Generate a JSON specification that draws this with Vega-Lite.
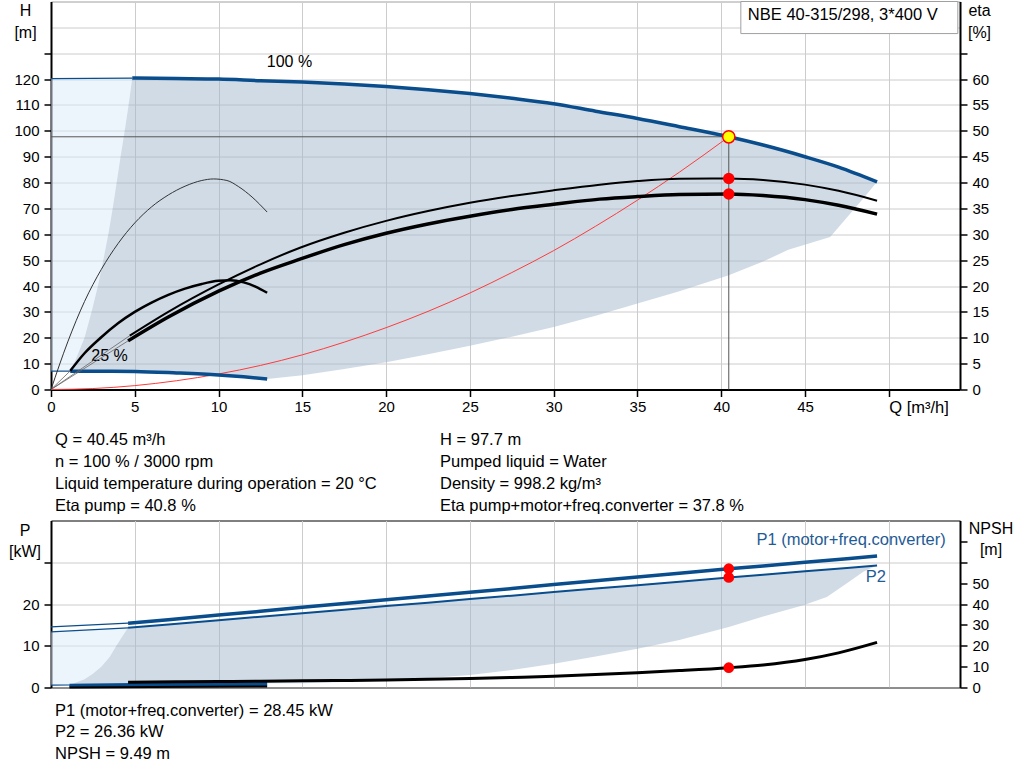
{
  "$schema": "https://vega.github.io/schema/vega-lite/v6.json",
  "padding": {"left": 8, "top": 0.5, "right": 5, "bottom": 5},
  "bounds": "flush",
  "spacing": 0,
  "config": {
    "font": "Liberation Sans",
    "axis": {"labelColor": "#000", "titleColor": "#000", "labelFontSize": 15, "titleFontSize": 16, "titleFontWeight": "normal", "tickColor": "#000", "domainColor": "#000"},
    "text": {"fontSize": 16.5, "color": "#000"}
  },
  "vconcat": [
    {
      "width": 909,
      "height": 388,
      "view": {"stroke": "#a0a0a0", "strokeWidth": 1},
      "encoding": {
        "x": {
          "field": "Q", "type": "quantitative",
          "scale": {"domain": [0, 54.25], "nice": false, "zero": false},
          "axis": {
            "values": [0, 5, 10, 15, 20, 25, 30, 35, 40, 45, 50],
            "title": null,
            "labelExpr": "datum.value == 50 ? 'Q [m³/h]' : datum.label",
            "labelAlign": {"condition": {"test": "datum.value == 50", "value": "left"}, "value": "center"},
            "labelFontSize": {"condition": {"test": "datum.value == 50", "value": 16.5}, "value": 15},
            "labelFlush": false, "labelOverlap": false, "labelPadding": 3,
            "grid": true, "gridColor": "#cccccc", "gridWidth": 1,
            "domainWidth": 2, "tickSize": 7, "tickWidth": 1.5
          }
        }
      },
      "layer": [
        {
          "encoding": {
            "y": {
              "field": "H", "type": "quantitative",
              "scale": {"domain": [0, 150], "nice": false, "zero": false},
              "axis": {
                "values": [0, 10, 20, 30, 40, 50, 60, 70, 80, 90, 100, 110, 120, 130, 140],
                "labelExpr": "datum.value > 120 ? '' : datum.label",
                "tickOpacity": {"condition": {"test": "datum.value > 130", "value": 0}, "value": 1},
                "grid": true, "gridColor": "#cccccc", "gridWidth": 1,
                "domainWidth": 2, "tickSize": 7, "tickWidth": 1.5, "labelPadding": 5,
                "title": ["H", "[m]"], "titleAngle": 0, "titleAlign": "center", "titleBaseline": "top",
                "titleX": -26, "titleY": 1, "titleLineHeight": 21.5
              }
            }
          },
          "layer": [
            {
              "data": {"values": [
                {"Q": 0, "H": 120.2, "H2": 7.1}, {"Q": 1.15, "H": 120.2, "H2": 7.1}, {"Q": 1.5, "H": 120.2, "H2": 12},
                {"Q": 2.0, "H": 120.2, "H2": 20}, {"Q": 2.42, "H": 120.2, "H2": 30}, {"Q": 2.8, "H": 120.3, "H2": 40},
                {"Q": 3.12, "H": 120.3, "H2": 50}, {"Q": 3.42, "H": 120.3, "H2": 60}, {"Q": 3.68, "H": 120.3, "H2": 70},
                {"Q": 3.92, "H": 120.3, "H2": 80}, {"Q": 4.15, "H": 120.3, "H2": 90}, {"Q": 4.4, "H": 120.4, "H2": 100},
                {"Q": 4.63, "H": 120.4, "H2": 110}, {"Q": 4.85, "H": 120.4, "H2": 120.4}
              ]},
              "mark": {"type": "area", "color": "#dcebfa", "opacity": 0.5},
              "encoding": {"y2": {"field": "H2"}}
            },
            {
              "data": {"values": [
                {"Q": 1.15, "H": 7.1, "H2": 7.1}, {"Q": 1.5, "H": 12, "H2": 7.1}, {"Q": 2.0, "H": 20, "H2": 7.1},
                {"Q": 2.42, "H": 30, "H2": 7.1}, {"Q": 2.8, "H": 40, "H2": 7.1}, {"Q": 3.12, "H": 50, "H2": 7.1},
                {"Q": 3.42, "H": 60, "H2": 7.1}, {"Q": 3.68, "H": 70, "H2": 7.1}, {"Q": 3.92, "H": 80, "H2": 7.05},
                {"Q": 4.15, "H": 90, "H2": 7.05}, {"Q": 4.4, "H": 100, "H2": 7.05}, {"Q": 4.63, "H": 110, "H2": 7.0},
                {"Q": 4.85, "H": 120.4, "H2": 7.0}, {"Q": 7.5, "H": 120.2, "H2": 6.4},
                {"Q": 10, "H": 120.0, "H2": 5.6}, {"Q": 12.9, "H": 119.3, "H2": 4.1}, {"Q": 15, "H": 118.9, "H2": 5.5},
                {"Q": 17.5, "H": 118.1, "H2": 7.9}, {"Q": 20, "H": 117.1, "H2": 10.5}, {"Q": 22.5, "H": 115.9, "H2": 13.6},
                {"Q": 25, "H": 114.4, "H2": 16.9}, {"Q": 27.5, "H": 112.6, "H2": 20.4}, {"Q": 30, "H": 110.5, "H2": 24.2},
                {"Q": 32.5, "H": 107.6, "H2": 28.5}, {"Q": 35, "H": 104.8, "H2": 33.2}, {"Q": 37.5, "H": 101.6, "H2": 38.0},
                {"Q": 40.45, "H": 97.7, "H2": 44.2}, {"Q": 42.5, "H": 94.5, "H2": 49.5}, {"Q": 44, "H": 91.9, "H2": 54.0},
                {"Q": 46.5, "H": 87.0, "H2": 59.0}, {"Q": 47.5, "H": 85.0, "H2": 66.5}, {"Q": 48.5, "H": 82.3, "H2": 74.0},
                {"Q": 49.3, "H": 80.3, "H2": 80.3}
              ]},
              "mark": {"type": "area", "color": "#a1b7cd", "opacity": 0.5},
              "encoding": {"y2": {"field": "H2"}}
            },
            {
              "data": {"values": [
                {"Q": 0, "Q2": 40.45, "H": 97.7, "H2": 97.7},
                {"Q": 40.45, "Q2": 40.45, "H": 0, "H2": 97.7}
              ]},
              "mark": {"type": "rule", "color": "#555555", "strokeWidth": 1},
              "encoding": {"x2": {"field": "Q2"}, "y2": {"field": "H2"}}
            },
            {
              "data": {"values": [
                {"Q": 0, "H": 0}, {"Q": 2.5, "H": 0.37}, {"Q": 5, "H": 1.5}, {"Q": 7.5, "H": 3.4}, {"Q": 10, "H": 6.0},
                {"Q": 12.5, "H": 9.3}, {"Q": 15, "H": 13.4}, {"Q": 17.5, "H": 18.3}, {"Q": 20, "H": 23.9},
                {"Q": 22.5, "H": 30.2}, {"Q": 25, "H": 37.3}, {"Q": 27.5, "H": 45.2}, {"Q": 30, "H": 53.7},
                {"Q": 32.5, "H": 63.1}, {"Q": 35, "H": 73.2}, {"Q": 37.5, "H": 84.0}, {"Q": 40.45, "H": 97.7}
              ]},
              "mark": {"type": "line", "color": "#ff3b3b", "strokeWidth": 1, "interpolate": "monotone"},
              "encoding": {}
            },
            {
              "data": {"values": [
                {"s": "100", "Q": 0, "H": 120.2}, {"s": "100", "Q": 4.85, "H": 120.4},
                {"s": "25", "Q": 0, "H": 7.1}, {"s": "25", "Q": 1.15, "H": 7.1}
              ]},
              "mark": {"type": "line", "color": "#0a4d8c", "strokeWidth": 1.2},
              "encoding": {"detail": {"field": "s"}}
            },
            {
              "data": {"values": [
                {"s": "100", "Q": 4.85, "H": 120.4}, {"s": "100", "Q": 7.5, "H": 120.2}, {"s": "100", "Q": 10, "H": 120.0},
                {"s": "100", "Q": 12.5, "H": 119.4}, {"s": "100", "Q": 15, "H": 118.9}, {"s": "100", "Q": 17.5, "H": 118.1},
                {"s": "100", "Q": 20, "H": 117.1}, {"s": "100", "Q": 22.5, "H": 115.9}, {"s": "100", "Q": 25, "H": 114.4},
                {"s": "100", "Q": 27.5, "H": 112.6}, {"s": "100", "Q": 30, "H": 110.5}, {"s": "100", "Q": 32.5, "H": 107.6},
                {"s": "100", "Q": 35, "H": 104.8}, {"s": "100", "Q": 37.5, "H": 101.6}, {"s": "100", "Q": 40.45, "H": 97.7},
                {"s": "100", "Q": 42.5, "H": 94.5}, {"s": "100", "Q": 45, "H": 90.0}, {"s": "100", "Q": 47, "H": 86.0},
                {"s": "100", "Q": 49.3, "H": 80.3},
                {"s": "25", "Q": 1.15, "H": 7.1}, {"s": "25", "Q": 3, "H": 7.1}, {"s": "25", "Q": 5, "H": 7.0},
                {"s": "25", "Q": 7.5, "H": 6.4}, {"s": "25", "Q": 10, "H": 5.6}, {"s": "25", "Q": 11.5, "H": 4.9},
                {"s": "25", "Q": 12.9, "H": 4.1}
              ]},
              "mark": {"type": "line", "color": "#0a4d8c", "strokeWidth": 3.5, "interpolate": "monotone"},
              "encoding": {"detail": {"field": "s"}}
            },
            {
              "data": {"values": [
                {"Q": 14.23, "H": 126.8, "label": "100 %"},
                {"Q": 3.49, "H": 13.1, "label": "25 %"}
              ]},
              "mark": {"type": "text", "align": "center", "baseline": "middle", "fontSize": 16},
              "encoding": {"text": {"field": "label"}}
            },
            {
              "data": {"values": [{"Q": 40.45, "H": 97.7}]},
              "mark": {"type": "point", "filled": true, "shape": "circle", "size": 150, "fill": "#ffff00", "stroke": "#ff0000", "strokeWidth": 1.5, "opacity": 1},
              "encoding": {}
            },
            {
              "data": {"values": [{"Q": 41.17, "Q2": 54.12, "H": 137.6, "H2": 150}]},
              "mark": {"type": "rect", "fill": "#ffffff", "stroke": "#a0a0a0", "strokeWidth": 1},
              "encoding": {"x2": {"field": "Q2"}, "y2": {"field": "H2"}}
            },
            {
              "data": {"values": [{"Q": 41.59, "H": 144.6, "label": "NBE 40-315/298, 3*400 V"}]},
              "mark": {"type": "text", "align": "left", "baseline": "middle", "fontSize": 16.5},
              "encoding": {"text": {"field": "label"}}
            }
          ]
        },
        {
          "encoding": {
            "y": {
              "field": "eta", "type": "quantitative",
              "scale": {"domain": [0, 75], "nice": false, "zero": false},
              "axis": {
                "orient": "right",
                "values": [0, 5, 10, 15, 20, 25, 30, 35, 40, 45, 50, 55, 60, 65, 70],
                "labelExpr": "datum.value > 60 ? '' : datum.label",
                "tickOpacity": {"condition": {"test": "datum.value > 65", "value": 0}, "value": 1},
                "grid": false, "domainWidth": 2, "tickSize": 7, "tickWidth": 1.5, "labelPadding": 5,
                "title": ["eta", "[%]"], "titleAngle": 0, "titleAlign": "center", "titleBaseline": "top",
                "titleX": 19, "titleY": 1, "titleLineHeight": 21.5
              }
            }
          },
          "layer": [
            {
              "data": {"values": [
                {"s": "o1", "Q": 0, "eta": 0}, {"s": "o1", "Q": 4.7, "eta": 10.4},
                {"s": "o2", "Q": 0, "eta": 0}, {"s": "o2", "Q": 4.6, "eta": 9.4},
                {"s": "o3", "Q": 0, "eta": 0}, {"s": "o3", "Q": 1.15, "eta": 3.6}
              ]},
              "mark": {"type": "line", "color": "#666666", "strokeWidth": 0.8},
              "encoding": {"detail": {"field": "s"}}
            },
            {
              "data": {"values": [
                {"Q": 0, "eta": 0}, {"Q": 1, "eta": 9.2}, {"Q": 2, "eta": 17.0}, {"Q": 3, "eta": 23.2},
                {"Q": 4, "eta": 28.2}, {"Q": 5, "eta": 32.2}, {"Q": 6, "eta": 35.3}, {"Q": 7, "eta": 37.6},
                {"Q": 8, "eta": 39.3}, {"Q": 9, "eta": 40.4}, {"Q": 9.7, "eta": 40.7}, {"Q": 10.5, "eta": 40.4},
                {"Q": 11.2, "eta": 39.2}, {"Q": 12, "eta": 37.2}, {"Q": 12.9, "eta": 34.3}
              ]},
              "mark": {"type": "line", "color": "#333333", "strokeWidth": 1, "interpolate": "monotone"},
              "encoding": {}
            },
            {
              "data": {"values": [
                {"Q": 1.15, "eta": 3.6}, {"Q": 2, "eta": 7.0}, {"Q": 3, "eta": 10.1}, {"Q": 4, "eta": 12.8},
                {"Q": 5, "eta": 15.0}, {"Q": 6, "eta": 16.8}, {"Q": 7, "eta": 18.3}, {"Q": 8, "eta": 19.5},
                {"Q": 9, "eta": 20.4}, {"Q": 10, "eta": 21.0}, {"Q": 10.7, "eta": 21.1}, {"Q": 11.5, "eta": 20.7},
                {"Q": 12.2, "eta": 19.9}, {"Q": 12.9, "eta": 18.7}
              ]},
              "mark": {"type": "line", "color": "#000000", "strokeWidth": 2.5, "interpolate": "monotone"},
              "encoding": {}
            },
            {
              "data": {"values": [
                {"Q": 4.7, "eta": 10.4}, {"Q": 7, "eta": 15.0}, {"Q": 10, "eta": 20.3}, {"Q": 12.5, "eta": 24.2},
                {"Q": 14.86, "eta": 27.4}, {"Q": 17.5, "eta": 30.3}, {"Q": 20, "eta": 32.6}, {"Q": 22.5, "eta": 34.5},
                {"Q": 25, "eta": 36.1}, {"Q": 27.5, "eta": 37.4}, {"Q": 30, "eta": 38.5}, {"Q": 32.75, "eta": 39.6},
                {"Q": 35, "eta": 40.3}, {"Q": 37.5, "eta": 40.75}, {"Q": 40.45, "eta": 40.8}, {"Q": 42.5, "eta": 40.5},
                {"Q": 45, "eta": 39.6}, {"Q": 47, "eta": 38.4}, {"Q": 49.3, "eta": 36.5}
              ]},
              "mark": {"type": "line", "color": "#000000", "strokeWidth": 2, "interpolate": "monotone"},
              "encoding": {}
            },
            {
              "data": {"values": [
                {"Q": 4.6, "eta": 9.4}, {"Q": 7, "eta": 14.0}, {"Q": 10, "eta": 19.0}, {"Q": 12.5, "eta": 22.5},
                {"Q": 14.86, "eta": 25.2}, {"Q": 17.5, "eta": 28.0}, {"Q": 20, "eta": 30.2}, {"Q": 22.5, "eta": 32.0},
                {"Q": 25, "eta": 33.5}, {"Q": 27.5, "eta": 34.8}, {"Q": 30, "eta": 35.8}, {"Q": 32.75, "eta": 36.8},
                {"Q": 35, "eta": 37.3}, {"Q": 37.5, "eta": 37.7}, {"Q": 40.45, "eta": 37.8}, {"Q": 42.5, "eta": 37.5},
                {"Q": 45, "eta": 36.7}, {"Q": 47, "eta": 35.6}, {"Q": 49.3, "eta": 33.9}
              ]},
              "mark": {"type": "line", "color": "#000000", "strokeWidth": 3.5, "interpolate": "monotone"},
              "encoding": {}
            },
            {
              "data": {"values": [{"Q": 40.45, "eta": 40.8}, {"Q": 40.45, "eta": 37.8}]},
              "mark": {"type": "point", "filled": true, "shape": "circle", "size": 130, "color": "#ff0000", "opacity": 1},
              "encoding": {}
            }
          ]
        }
      ],
      "resolve": {"scale": {"y": "independent"}}
    },
    {
      "width": 909,
      "height": 131,
      "view": {"stroke": null},
      "data": {"values": [
        {"col": 0, "line": 1, "text": "Q = 40.45 m³/h"},
        {"col": 0, "line": 2, "text": "n = 100 % / 3000 rpm"},
        {"col": 0, "line": 3, "text": "Liquid temperature during operation = 20 °C"},
        {"col": 0, "line": 4, "text": "Eta pump = 40.8 %"},
        {"col": 1, "line": 1, "text": "H = 97.7 m"},
        {"col": 1, "line": 2, "text": "Pumped liquid = Water"},
        {"col": 1, "line": 3, "text": "Density = 998.2 kg/m³"},
        {"col": 1, "line": 4, "text": "Eta pump+motor+freq.converter = 37.8 %"}
      ]},
      "mark": {"type": "text", "align": "left", "baseline": "middle", "fontSize": 16.5},
      "encoding": {
        "x": {"field": "col", "type": "quantitative", "scale": {"domain": [0, 1], "range": [4, 389]}, "axis": null},
        "y": {"field": "line", "type": "quantitative", "scale": {"domain": [1, 4], "range": [50, 116]}, "axis": null},
        "text": {"field": "text"}
      }
    },
    {
      "width": 909,
      "height": 167,
      "view": {"stroke": "#000000", "strokeWidth": 1},
      "encoding": {
        "x": {
          "field": "Q", "type": "quantitative",
          "scale": {"domain": [0, 54.25], "nice": false, "zero": false},
          "axis": {
            "values": [0, 5, 10, 15, 20, 25, 30, 35, 40, 45, 50],
            "title": null, "labels": false, "ticks": false,
            "grid": true, "gridColor": "#cccccc", "gridWidth": 1,
            "domainColor": "#777777", "domainWidth": 1
          }
        }
      },
      "layer": [
        {
          "encoding": {
            "y": {
              "field": "P", "type": "quantitative",
              "scale": {"domain": [0, 40], "nice": false, "zero": false},
              "axis": {
                "values": [0, 10, 20, 30],
                "labelExpr": "datum.value > 20 ? '' : datum.label",
                "grid": true, "gridColor": "#cccccc", "gridWidth": 1,
                "domainWidth": 2, "tickSize": 7, "tickWidth": 1.5, "labelPadding": 5,
                "title": ["P", "[kW]"], "titleAngle": 0, "titleAlign": "center", "titleBaseline": "top",
                "titleX": -26.5, "titleY": 1.5, "titleLineHeight": 21
              }
            }
          },
          "layer": [
            {
              "data": {"values": [
                {"Q": 0, "P": 13.3, "P_low": 0.6}, {"Q": 1.1, "P": 13.5, "P_low": 0.6}, {"Q": 1.5, "P": 13.6, "P_low": 1.2},
                {"Q": 2.0, "P": 13.7, "P_low": 2.0}, {"Q": 2.5, "P": 13.8, "P_low": 3.3}, {"Q": 3.0, "P": 13.9, "P_low": 5.0},
                {"Q": 3.5, "P": 14.0, "P_low": 7.3}, {"Q": 3.9, "P": 14.1, "P_low": 10.0}, {"Q": 4.3, "P": 14.2, "P_low": 12.5},
                {"Q": 4.6, "P": 14.3, "P_low": 14.3}
              ]},
              "mark": {"type": "area", "color": "#dcebfa", "opacity": 0.5},
              "encoding": {"y2": {"field": "P_low"}}
            },
            {
              "data": {"values": [
                {"Q": 1.1, "P": 0.6, "P_low": 0.6}, {"Q": 1.5, "P": 1.2, "P_low": 0.6}, {"Q": 2.0, "P": 2.0, "P_low": 0.6},
                {"Q": 2.5, "P": 3.3, "P_low": 0.6}, {"Q": 3.0, "P": 5.0, "P_low": 0.65}, {"Q": 3.5, "P": 7.3, "P_low": 0.65},
                {"Q": 3.9, "P": 10.0, "P_low": 0.7}, {"Q": 4.3, "P": 12.5, "P_low": 0.7}, {"Q": 4.6, "P": 14.3, "P_low": 0.7},
                {"Q": 7, "P": 15.1, "P_low": 0.8}, {"Q": 10, "P": 16.1, "P_low": 0.9}, {"Q": 12.5, "P": 16.95, "P_low": 1.0},
                {"Q": 15, "P": 17.8, "P_low": 1.0}, {"Q": 17.5, "P": 18.6, "P_low": 1.3}, {"Q": 20, "P": 19.5, "P_low": 1.7},
                {"Q": 22.5, "P": 20.3, "P_low": 2.3}, {"Q": 25, "P": 21.2, "P_low": 3.0}, {"Q": 27.5, "P": 22.0, "P_low": 4.2},
                {"Q": 30, "P": 22.85, "P_low": 5.7}, {"Q": 32.5, "P": 23.7, "P_low": 7.4}, {"Q": 35, "P": 24.5, "P_low": 9.3},
                {"Q": 37.5, "P": 25.35, "P_low": 11.4}, {"Q": 40.45, "P": 26.36, "P_low": 14.5}, {"Q": 42.5, "P": 27.0, "P_low": 17.0},
                {"Q": 44.9, "P": 27.8, "P_low": 19.7}, {"Q": 46.3, "P": 28.3, "P_low": 21.7}, {"Q": 47.5, "P": 28.6, "P_low": 25.0},
                {"Q": 48.5, "P": 28.95, "P_low": 27.8}, {"Q": 49.3, "P": 29.2, "P_low": 29.2}
              ]},
              "mark": {"type": "area", "color": "#a1b7cd", "opacity": 0.5},
              "encoding": {"y2": {"field": "P_low"}}
            },
            {
              "data": {"values": [
                {"s": "P1", "Q": 0, "P": 14.5}, {"s": "P1", "Q": 4.6, "P": 15.4},
                {"s": "P2", "Q": 0, "P": 13.3}, {"s": "P2", "Q": 4.6, "P": 14.3},
                {"s": "P1_25", "Q": 0, "P": 0.55}, {"s": "P1_25", "Q": 1.1, "P": 0.6}
              ]},
              "mark": {"type": "line", "color": "#0a4d8c", "strokeWidth": 1.2},
              "encoding": {"detail": {"field": "s"}}
            },
            {
              "data": {"values": [
                {"Q": 4.6, "P": 14.3}, {"Q": 7, "P": 15.1}, {"Q": 10, "P": 16.1}, {"Q": 12.5, "P": 16.95},
                {"Q": 15, "P": 17.8}, {"Q": 17.5, "P": 18.6}, {"Q": 20, "P": 19.5}, {"Q": 22.5, "P": 20.3},
                {"Q": 25, "P": 21.2}, {"Q": 27.5, "P": 22.0}, {"Q": 30, "P": 22.85}, {"Q": 32.5, "P": 23.7},
                {"Q": 35, "P": 24.5}, {"Q": 37.5, "P": 25.35}, {"Q": 40.45, "P": 26.36}, {"Q": 42.5, "P": 27.0},
                {"Q": 45, "P": 27.85}, {"Q": 47.5, "P": 28.6}, {"Q": 49.3, "P": 29.2}
              ]},
              "mark": {"type": "line", "color": "#0a4d8c", "strokeWidth": 2},
              "encoding": {}
            },
            {
              "data": {"values": [
                {"Q": 4.6, "P": 15.4}, {"Q": 7, "P": 16.25}, {"Q": 10, "P": 17.35}, {"Q": 12.5, "P": 18.25},
                {"Q": 15, "P": 19.2}, {"Q": 17.5, "P": 20.1}, {"Q": 20, "P": 21.0}, {"Q": 22.5, "P": 21.9},
                {"Q": 25, "P": 22.8}, {"Q": 27.5, "P": 23.7}, {"Q": 30, "P": 24.65}, {"Q": 32.5, "P": 25.55},
                {"Q": 35, "P": 26.45}, {"Q": 37.5, "P": 27.35}, {"Q": 40.45, "P": 28.45}, {"Q": 42.5, "P": 29.1},
                {"Q": 45, "P": 30.0}, {"Q": 47.5, "P": 30.85}, {"Q": 49.3, "P": 31.5}
              ]},
              "mark": {"type": "line", "color": "#0a4d8c", "strokeWidth": 3.5},
              "encoding": {}
            },
            {
              "data": {"values": [
                {"s": "P1_25", "Q": 1.1, "P": 0.6}, {"s": "P1_25", "Q": 5, "P": 0.75}, {"s": "P1_25", "Q": 9, "P": 0.9}, {"s": "P1_25", "Q": 12.9, "P": 1.0},
                {"s": "P2_25", "Q": 1.1, "P": 0.35}, {"s": "P2_25", "Q": 12.9, "P": 0.6}
              ]},
              "mark": {"type": "line", "color": "#0a4d8c", "strokeWidth": 2.5},
              "encoding": {"detail": {"field": "s"}}
            },
            {
              "data": {"values": [
                {"Q": 53.4, "P": 35.3, "label": "P1 (motor+freq.converter)"}
              ]},
              "mark": {"type": "text", "align": "right", "baseline": "middle", "fontSize": 16.5, "color": "#1f5b95"},
              "encoding": {"text": {"field": "label"}}
            },
            {
              "data": {"values": [
                {"Q": 48.63, "P": 26.5, "label": "P2"}
              ]},
              "mark": {"type": "text", "align": "left", "baseline": "middle", "fontSize": 16.5, "color": "#1f5b95"},
              "encoding": {"text": {"field": "label"}}
            },
            {
              "data": {"values": [{"Q": 40.45, "P": 28.45}, {"Q": 40.45, "P": 26.36}]},
              "mark": {"type": "point", "filled": true, "shape": "circle", "size": 115, "color": "#ff0000", "opacity": 1},
              "encoding": {}
            }
          ]
        },
        {
          "encoding": {
            "y": {
              "field": "NPSH", "type": "quantitative",
              "scale": {"domain": [0, 80], "nice": false, "zero": false},
              "axis": {
                "orient": "right",
                "values": [0, 10, 20, 30, 40, 50, 60, 70],
                "labelExpr": "datum.value > 50 ? '' : datum.label",
                "grid": false, "domainWidth": 2, "tickSize": 7, "tickWidth": 1.5, "labelPadding": 5,
                "title": ["NPSH", "[m]"], "titleAngle": 0, "titleAlign": "center", "titleBaseline": "top",
                "titleX": 30.5, "titleY": 0, "titleLineHeight": 21
              }
            }
          },
          "layer": [
            {
              "data": {"values": [
                {"Q": 1.1, "NPSH": 0.0}, {"Q": 6, "NPSH": 0.2}, {"Q": 12.9, "NPSH": 0.5}
              ]},
              "mark": {"type": "line", "color": "#000000", "strokeWidth": 2},
              "encoding": {}
            },
            {
              "data": {"values": [
                {"Q": 4.6, "NPSH": 2.5}, {"Q": 7.5, "NPSH": 2.7}, {"Q": 10, "NPSH": 2.85},
                {"Q": 12.5, "NPSH": 3.0}, {"Q": 15, "NPSH": 3.2}, {"Q": 17.5, "NPSH": 3.35},
                {"Q": 20, "NPSH": 3.55}, {"Q": 22.5, "NPSH": 3.9}, {"Q": 25, "NPSH": 4.3},
                {"Q": 27.5, "NPSH": 4.8}, {"Q": 30, "NPSH": 5.4}, {"Q": 32.5, "NPSH": 6.2},
                {"Q": 35, "NPSH": 7.1}, {"Q": 37.5, "NPSH": 8.1}, {"Q": 40.45, "NPSH": 9.49},
                {"Q": 42.5, "NPSH": 10.8}, {"Q": 45, "NPSH": 13.4}, {"Q": 47, "NPSH": 16.6},
                {"Q": 49.3, "NPSH": 21.6}
              ]},
              "mark": {"type": "line", "color": "#000000", "strokeWidth": 3, "interpolate": "monotone"},
              "encoding": {}
            },
            {
              "data": {"values": [{"Q": 40.45, "NPSH": 9.49}]},
              "mark": {"type": "point", "filled": true, "shape": "circle", "size": 115, "color": "#ff0000", "opacity": 1},
              "encoding": {}
            }
          ]
        }
      ],
      "resolve": {"scale": {"y": "independent"}}
    },
    {
      "width": 909,
      "height": 80,
      "view": {"stroke": null},
      "data": {"values": [
        {"col": 0, "line": 1, "text": "P1 (motor+freq.converter) = 28.45 kW"},
        {"col": 0, "line": 2, "text": "P2 = 26.36 kW"},
        {"col": 0, "line": 3, "text": "NPSH = 9.49 m"}
      ]},
      "mark": {"type": "text", "align": "left", "baseline": "middle", "fontSize": 16.5},
      "encoding": {
        "x": {"field": "col", "type": "quantitative", "scale": {"domain": [0, 1], "range": [4, 389]}, "axis": null},
        "y": {"field": "line", "type": "quantitative", "scale": {"domain": [1, 3], "range": [23, 66]}, "axis": null},
        "text": {"field": "text"}
      }
    }
  ]
}
